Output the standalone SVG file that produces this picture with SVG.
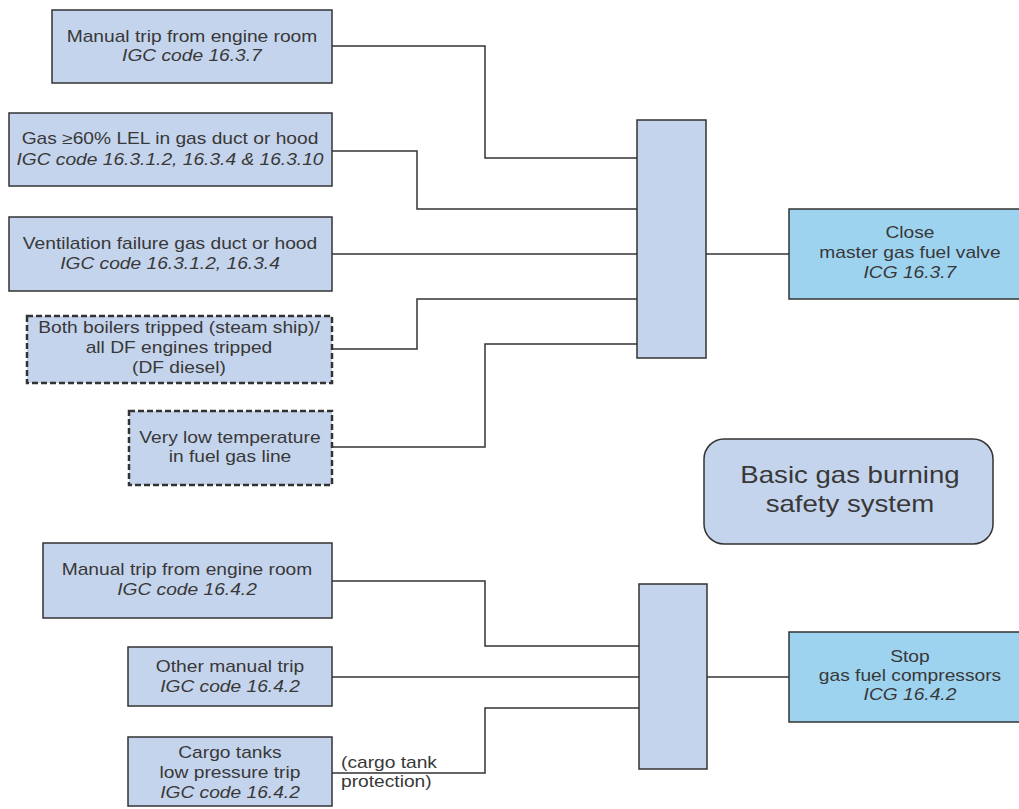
<svg xmlns="http://www.w3.org/2000/svg" width="1019" height="809" viewBox="0 0 1019 809">
<style>
.n { fill: #c5d4ed; stroke: #333; stroke-width: 1.5; }
.d { fill: #c5d4ed; stroke: #333; stroke-width: 2.5; stroke-dasharray: 6 3; }
.o { fill: #9ed3f0; stroke: #333; stroke-width: 1.5; }
.c { fill: none; stroke: #333; stroke-width: 1.5; }
text { font-family: "Liberation Sans", Arial, sans-serif; font-size: 16px; fill: #383838; text-anchor: middle; transform-box: fill-box; transform-origin: center; transform: scaleX(1.2); }
.i { font-style: italic; }
.l { text-anchor: start; transform-origin: left; }
.title { font-size: 23px; }
</style>
<rect width="1019" height="809" fill="#fff"/>
<g id="connectors">
<polyline class="c" points="332,46 485,46 485,158 637,158"/>
<polyline class="c" points="332,151 417,151 417,209 637,209"/>
<polyline class="c" points="332,254 637,254"/>
<polyline class="c" points="332,349 417,349 417,299 637,299"/>
<polyline class="c" points="332,447 485,447 485,344 637,344"/>
<polyline class="c" points="706,254 789,254"/>
<polyline class="c" points="332,581 485,581 485,646 639,646"/>
<polyline class="c" points="332,677 639,677"/>
<polyline class="c" points="332,773 485,773 485,708 639,708"/>
<polyline class="c" points="707,677 789,677"/>
</g>
<g id="n1"><rect class="n" x="52" y="10" width="280" height="73"/>
<text x="192" y="42">Manual trip from engine room</text><text class="i" x="192" y="61">IGC code 16.3.7</text></g>
<g id="n2"><rect class="n" x="9" y="113" width="323" height="73"/>
<text x="170" y="144">Gas ≥60% LEL in gas duct or hood</text><text class="i" x="170" y="165">IGC code 16.3.1.2, 16.3.4 &amp; 16.3.10</text></g>
<g id="n3"><rect class="n" x="9" y="217" width="323" height="74"/>
<text x="170" y="249">Ventilation failure gas duct or hood</text><text class="i" x="170" y="269">IGC code 16.3.1.2, 16.3.4</text></g>
<g id="n4"><rect class="d" x="27" y="316" width="305" height="67"/>
<text x="179" y="333">Both boilers tripped (steam ship)/</text><text x="179" y="353">all DF engines tripped</text><text x="179" y="373">(DF diesel)</text></g>
<g id="n5"><rect class="d" x="129" y="411" width="203" height="74"/>
<text x="230" y="443">Very low temperature</text><text x="230" y="462">in fuel gas line</text></g>
<g id="bar1"><rect class="n" x="637" y="120" width="69" height="238"/></g>
<g id="out1"><rect class="o" x="789" y="209" width="245" height="90"/>
<text x="910" y="238">Close</text><text x="910" y="258">master gas fuel valve</text><text class="i" x="910" y="278">ICG 16.3.7</text></g>
<g id="title"><rect class="n" x="704" y="439" width="289" height="105" rx="20"/>
<text class="title" x="850" y="483">Basic gas burning</text><text class="title" x="850" y="512">safety system</text></g>
<g id="n6"><rect class="n" x="43" y="543" width="289" height="75"/>
<text x="187" y="575">Manual trip from engine room</text><text class="i" x="187" y="595">IGC code 16.4.2</text></g>
<g id="n7"><rect class="n" x="128" y="647" width="204" height="59"/>
<text x="230" y="672">Other manual trip</text><text class="i" x="230" y="692">IGC code 16.4.2</text></g>
<g id="n8"><rect class="n" x="128" y="737" width="204" height="69"/>
<text x="230" y="758">Cargo tanks</text><text x="230" y="778">low pressure trip</text><text class="i" x="230" y="798">IGC code 16.4.2</text></g>
<text class="l" x="341" y="768">(cargo tank</text>
<text class="l" x="341" y="787">protection)</text>
<g id="bar2"><rect class="n" x="639" y="584" width="68" height="185"/></g>
<g id="out2"><rect class="o" x="789" y="632" width="245" height="90"/>
<text x="910" y="662">Stop</text><text x="910" y="681">gas fuel compressors</text><text class="i" x="910" y="700">ICG 16.4.2</text></g>
</svg>
